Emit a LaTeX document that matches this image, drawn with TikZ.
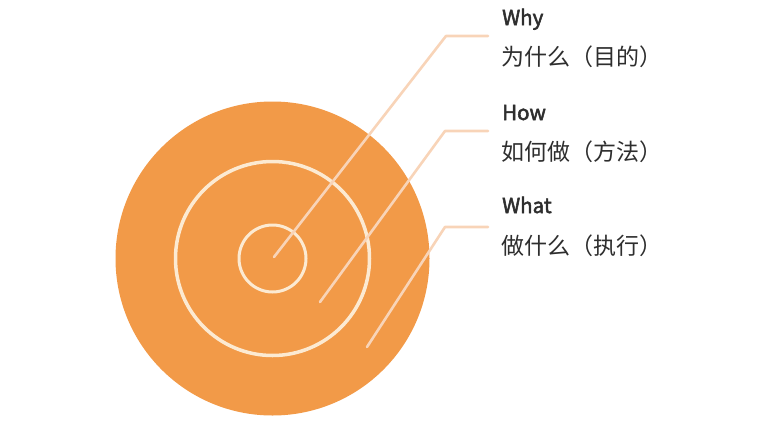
\documentclass[tikz,border=0pt]{standalone}
\usepackage{fontspec}
\usepackage{xcolor}
\setmainfont{Noto Sans CJK SC}
\newfontfamily\keywordfont[FakeBold=2.5]{Noto Sans CJK SC}
\definecolor{targetorange}{HTML}{F29A48}
\definecolor{ringcream}{HTML}{FCEAD2}
\definecolor{leaderpeach}{HTML}{F8D4B8}
\definecolor{labelgray}{HTML}{2E2E2E}

\begin{document}
\begin{tikzpicture}[x=1pt,y=-1pt,
    ring/.style={draw=ringcream, line width=3.5pt},
    leader/.style={draw=leaderpeach, line width=2.6pt, line cap=round, line join=round},
    keyword/.style={anchor=base west, inner sep=0pt, text=labelgray, font=\keywordfont\fontsize{20.5}{23}\selectfont},
    meaning/.style={anchor=base west, inner sep=0pt, text=labelgray, font=\fontsize{23}{26}\selectfont}]

    \useasboundingbox (0,0) rectangle (761,429);

    %% target
    \fill[targetorange] (272.5,258.5) circle (157);
    \draw[ring] (272.5,258.5) circle (97);
    \draw[ring, line width=3pt] (272.5,258.5) circle (33.5);

    %% leader points
    \coordinate (whystart) at (274,257);
    \coordinate (whybend)  at (446,36);
    \coordinate (whyend)   at (488,36);

    \coordinate (howstart) at (320,302);
    \coordinate (howbend)  at (445,131);
    \coordinate (howend)   at (488,131);

    \coordinate (whatstart) at (367,347);
    \coordinate (whatbend)  at (445,227);
    \coordinate (whatend)   at (488,227);

    %Why
    \node[keyword] (why)     at (502,25)  {Why};
    \node[meaning] (whytext) at (501,65)  {为什么（目的）};
    \draw[leader] (whystart) -- (whybend) -- (whyend);

    %How
    \node[keyword] (how)     at (502,120) {How};
    \node[meaning] (howtext) at (501,160) {如何做（方法）};
    \draw[leader] (howstart) -- (howbend) -- (howend);

    %What
    \node[keyword] (what)     at (502,213) {What};
    \node[meaning] (whattext) at (501,254) {做什么（执行）};
    \draw[leader] (whatstart) -- (whatbend) -- (whatend);

\end{tikzpicture}
\end{document}
